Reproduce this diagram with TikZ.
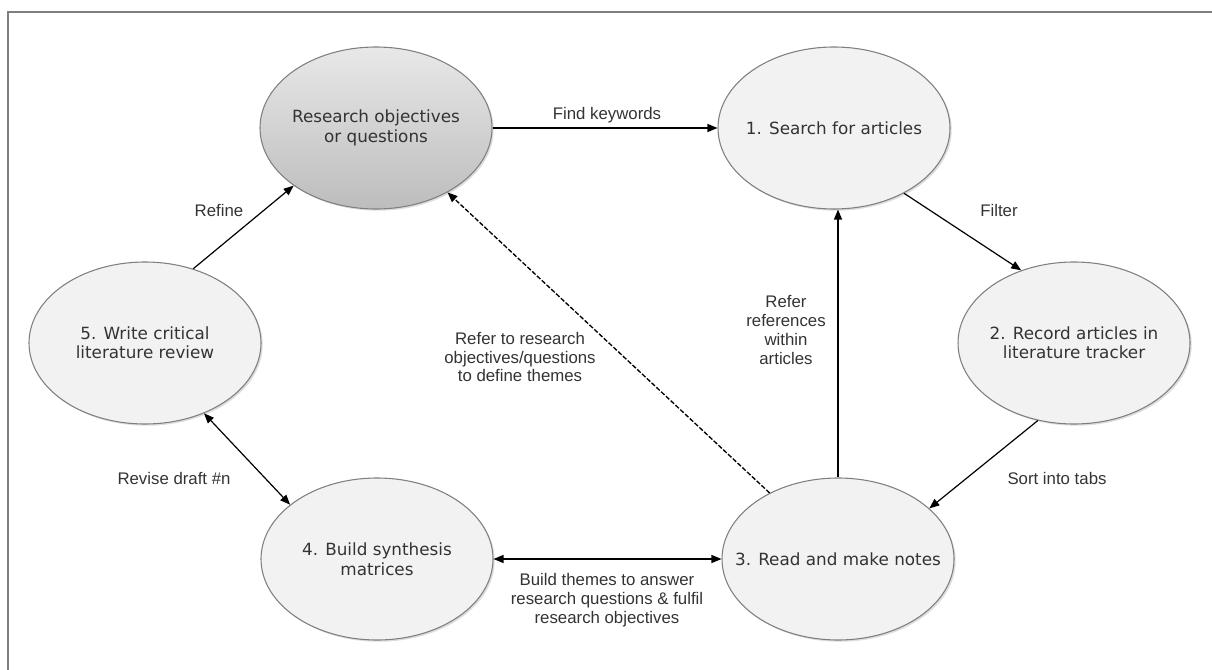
\documentclass[tikz,border=0pt]{standalone}
\usepackage{fontspec}
\setmainfont{Liberation Sans}
\newfontfamily\stagefont{DejaVu Sans}
\usetikzlibrary{shapes.geometric,arrows.meta,shadows}

\definecolor{txt}{HTML}{333333}
\definecolor{rim}{HTML}{7F7F7F}
\definecolor{pale}{HTML}{F2F2F2}

\tikzset{
  stage/.style={ellipse, draw=rim, fill=pale, line width=0.8pt,
    minimum width=174pt, minimum height=121.5pt, inner xsep=-30pt, inner ysep=0pt,
    align=center, text=txt, font=\stagefont\fontsize{12.6}{14.6}\selectfont,
    drop shadow={shadow xshift=1.3pt, shadow yshift=-1.3pt, fill=gray!45, opacity=0.6}},
  lbl/.style={inner sep=0pt, align=center, text=txt, font=\fontsize{12.6}{14.2}\selectfont},
  flow/.style={draw=black, line width=0.9pt, -{Triangle[length=7.5pt,width=6pt]}},
  both/.style={flow, {Triangle[length=7.5pt,width=6pt]}-{Triangle[length=7.5pt,width=6pt]}},
  hint/.style={flow, line width=1pt, dash pattern=on 3.5pt off 1.4pt}
}

\begin{document}
\begin{tikzpicture}[x=0.75pt,y=0.75pt,yscale=-1,xscale=1]
\useasboundingbox (0,0) rectangle (1212,670);

%Shape: Frame
\draw [draw=rim, line width=1.2pt] (8,670) -- (8,12) -- (1212,12);

%Shape: Ellipse
\node [stage, top color=gray!18, bottom color=gray!52] (res) at (376,128) {Research objectives\\or questions};
%Shape: Ellipse
\node [stage] (srch) at (834,128) {1. Search for articles};
%Shape: Ellipse
\node [stage] (rec) at (1074,343) {2. Record articles in\\literature tracker};
%Shape: Ellipse
\node [stage] (read) at (838,559) {3. Read and make notes};
%Shape: Ellipse
\node [stage] (bld) at (377,559) {4. Build synthesis\\matrices};
%Shape: Ellipse
\node [stage] (wrt) at (145,343) {5. Write critical\\literature review};

%Straight Lines
\draw [flow] (res.east) -- (srch.west);
\draw [flow] (srch.-43) -- (rec.126);
\draw [flow] (rec.245) -- (read.29);
\draw [flow] (read.north) -- (srch.south -| read.north);
\draw [hint] (read.136) -- (res.-42);
\draw [both] (bld.east) -- (read.west);
\draw [both] (wrt.-50) -- (bld.148);
\draw [flow] (wrt.57) -- (res.215);

% Text Node
\node [lbl] (kw) at (607,115) {Find keywords};
% Text Node
\node [lbl] (flt) at (999,210) {Filter};
% Text Node
\node [lbl] (tabs) at (1057,478) {Sort into tabs};
% Text Node
\node [lbl] (refs) at (786,330) {Refer\\references\\within\\articles};
% Text Node
\node [lbl] (themes) at (520,357) {Refer to research\\objectives/questions\\to define themes};
% Text Node
\node [lbl] (ans) at (607,600) {Build themes to answer\\research questions \& fulfil\\research objectives};
% Text Node
\node [lbl] (rev) at (174,478) {Revise draft \#n};
% Text Node
\node [lbl] (rfn) at (219,210) {Refine};

\end{tikzpicture}
\end{document}
